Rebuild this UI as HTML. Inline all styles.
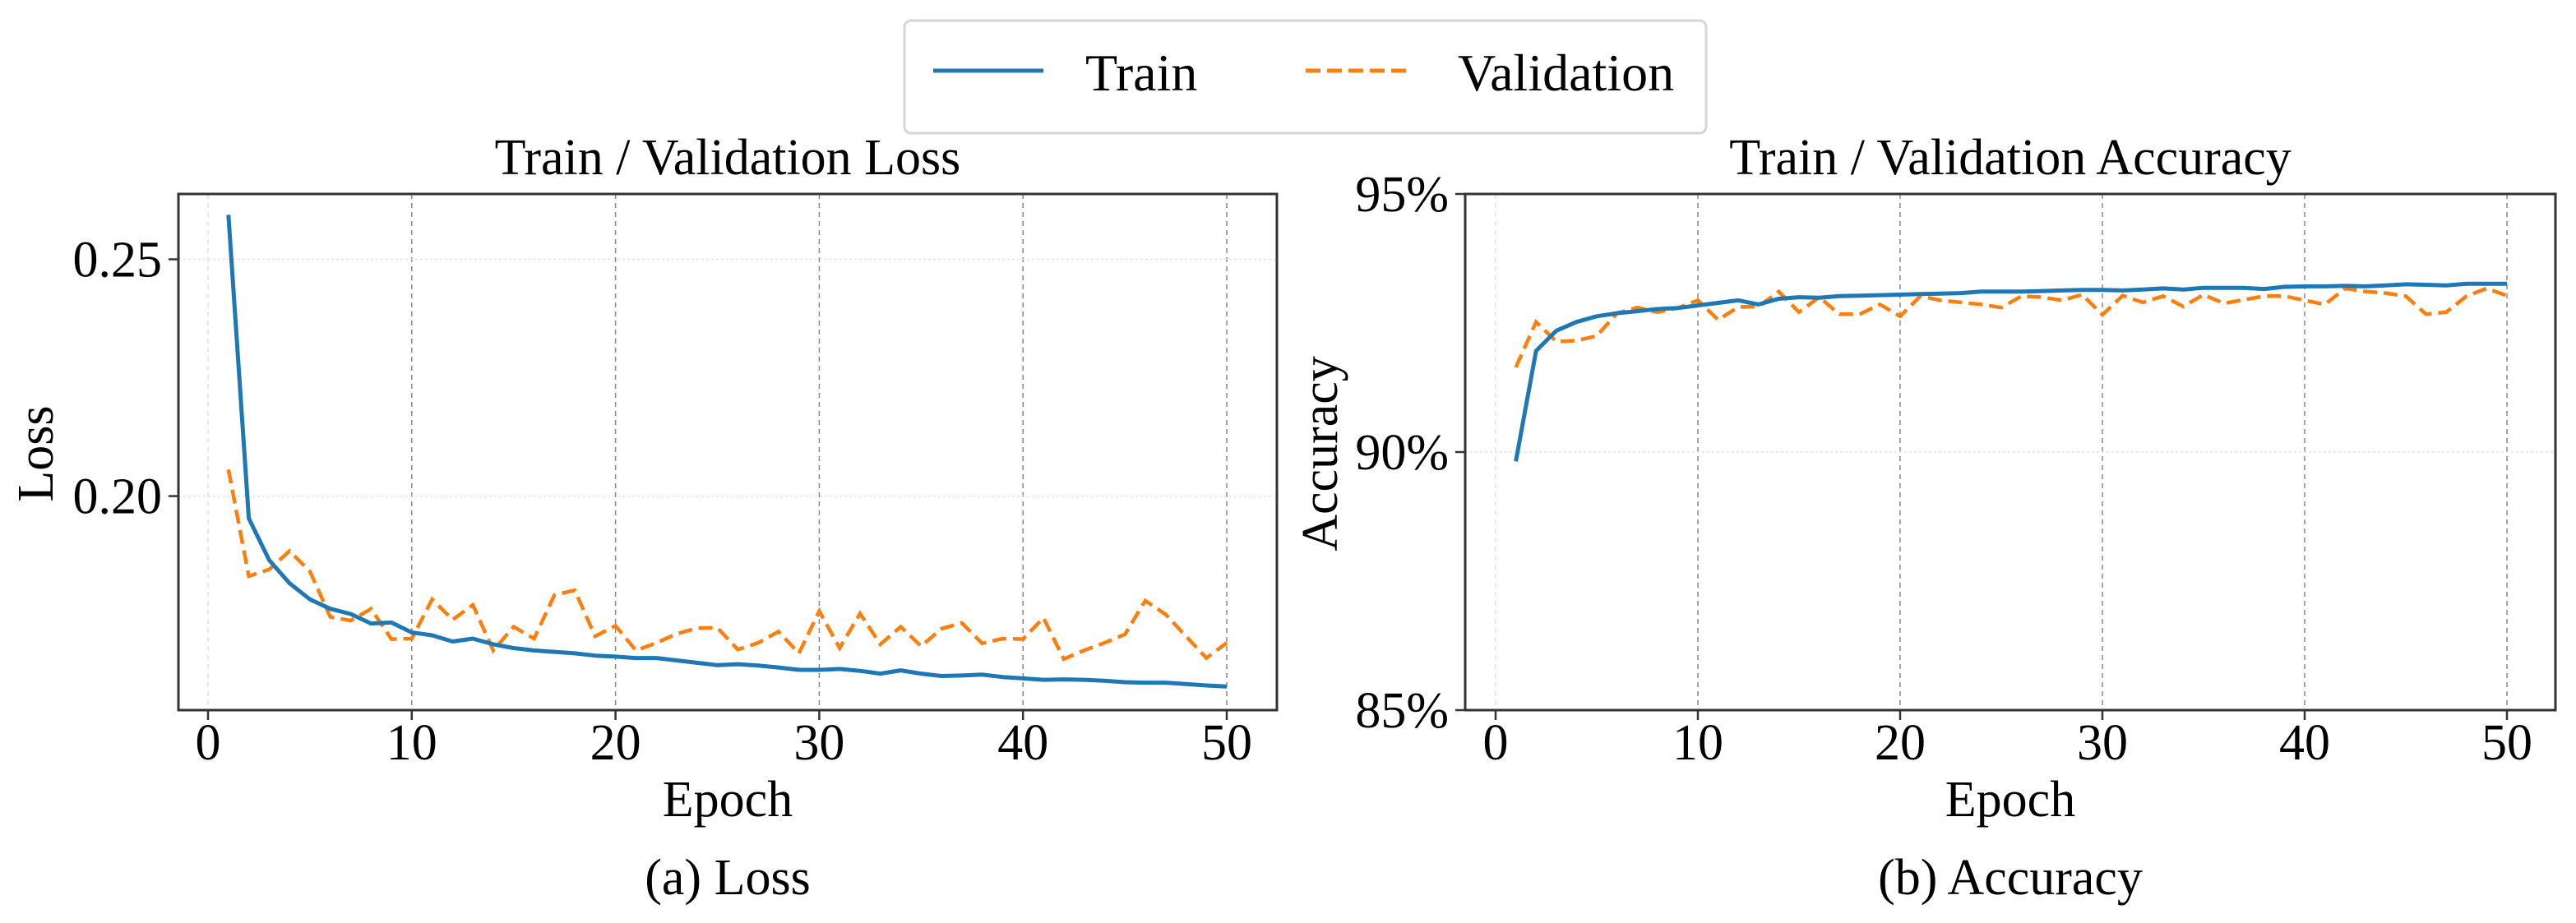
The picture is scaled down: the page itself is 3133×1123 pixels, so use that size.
<!DOCTYPE html>
<html><head><meta charset="utf-8"><style>
html,body{margin:0;padding:0;background:#fff;}
svg{display:block;font-family:"Liberation Serif",serif;}
</style></head><body>
<svg id="fig" width="3133" height="1123" viewBox="0 0 3133 1123" xmlns="http://www.w3.org/2000/svg">
<rect width="3133" height="1123" fill="#fff"/>
<g>
<rect x="1100" y="25" width="975" height="137" rx="8" fill="#fff" stroke="#d6d6d6" stroke-width="3"/>
<line x1="1135" y1="86" x2="1269" y2="86" stroke="#1f77b4" stroke-width="5"/>
<text x="1320" y="110" font-size="64">Train</text>
<line x1="1588" y1="86" x2="1717" y2="86" stroke="#ff7f0e" stroke-width="5" stroke-dasharray="18,8"/>
<text x="1773" y="110" font-size="64">Validation</text>
</g>
<g id="loss"></g>
<g id="acc"></g>
</svg>
<script>
const epochs = Array.from({length:50},(_,i)=>i+1);
const lossTrain = [0.2594,0.1953,0.1865,0.1816,0.1782,0.1762,0.1751,0.1731,0.1733,0.1712,0.1706,0.1693,0.1699,0.1687,0.1679,0.1674,0.1671,0.1668,0.1663,0.1661,0.1658,0.1658,0.1653,0.1648,0.1643,0.1645,0.1642,0.1638,0.1633,0.1633,0.1635,0.1631,0.1625,0.1632,0.1625,0.1620,0.1621,0.1623,0.1618,0.1615,0.1612,0.1613,0.1612,0.1610,0.1607,0.1606,0.1606,0.1603,0.1600,0.1598];
const lossVal = [0.2056,0.1831,0.1845,0.1884,0.1841,0.1745,0.1737,0.1762,0.1698,0.1699,0.1782,0.1739,0.1770,0.1674,0.1724,0.1699,0.1791,0.1801,0.1704,0.1726,0.1674,0.1690,0.1709,0.1721,0.1722,0.1676,0.1690,0.1714,0.1668,0.1757,0.1679,0.1752,0.1687,0.1724,0.1683,0.1720,0.1732,0.1689,0.1699,0.1698,0.1743,0.1656,0.1674,0.1690,0.1708,0.1779,0.1750,0.1704,0.1658,0.1690];
const accTrain = [89.82,91.96,92.35,92.52,92.63,92.69,92.73,92.77,92.79,92.84,92.89,92.94,92.86,92.97,93.00,92.99,93.02,93.03,93.04,93.05,93.06,93.07,93.08,93.11,93.11,93.11,93.12,93.13,93.14,93.14,93.13,93.15,93.17,93.15,93.18,93.18,93.18,93.16,93.20,93.21,93.21,93.22,93.21,93.23,93.25,93.24,93.23,93.26,93.26,93.26];
const accVal = [91.64,92.52,92.14,92.16,92.25,92.69,92.80,92.71,92.79,92.94,92.56,92.81,92.82,93.11,92.71,93.00,92.67,92.67,92.86,92.63,93.02,92.94,92.90,92.86,92.80,93.02,93.00,92.94,93.05,92.66,93.03,92.90,93.02,92.82,93.05,92.88,92.95,93.02,93.02,92.94,92.86,93.17,93.11,93.08,93.02,92.67,92.71,93.02,93.17,93.03];
const xTicks = [0,10,20,30,40,50];
const lossYTicks = [0.20,0.25];
const lossYLabels = ["0.20","0.25"];
const accYTicks = [85,90,95];
const accYLabels = ["85%","90%","95%"];

const NS="http://www.w3.org/2000/svg";
function mk(parent,tag,attrs){const e=document.createElementNS(NS,tag);for(const k in attrs)e.setAttribute(k,attrs[k]);parent.appendChild(e);return e;}

function drawChart(g,cfg){
  const L=cfg.left,R=cfg.right,T=236,B=864;
  const xs=v=>cfg.x0+(v-0)*(cfg.x50-cfg.x0)/50;
  const ys=v=>B-(v-cfg.ymin)/(cfg.ymax-cfg.ymin)*(B-T);
  // grid
  xTicks.forEach(t=>{
    const gl=mk(g,'line',{x1:xs(t),x2:xs(t),y1:T,y2:B,stroke:t===0?'#e0e0e0':'#888','stroke-width':1.5,'stroke-dasharray':'6,5'});
    
    
  });
  cfg.yt.forEach(t=>{
    const gl=mk(g,'line',{x1:L,x2:R,y1:ys(t),y2:ys(t),stroke:'#e3e3e3','stroke-width':1.5,'stroke-dasharray':'3,3'});
    
    
  });
  // series
  const pts=a=>a.map((v,i)=>xs(epochs[i]).toFixed(1)+','+ys(v).toFixed(1)).join(' ');
  const pv=mk(g,'polyline',{points:pts(cfg.val),fill:'none',stroke:'#ff7f0e','stroke-width':4.5,'stroke-dasharray':'17,8'});
  
  
  const pt=mk(g,'polyline',{points:pts(cfg.train),fill:'none',stroke:'#1f77b4','stroke-width':5,'stroke-linejoin':'round'});
  
  
  // frame
  const fr=mk(g,'rect',{x:L,y:T,width:R-L,height:B-T,fill:'none',stroke:'#333','stroke-width':3});
  
  
  // x ticks
  xTicks.forEach(t=>{
    mk(g,'line',{x1:xs(t),x2:xs(t),y1:B,y2:B+12,stroke:'#333','stroke-width':2.5});
    const tx=mk(g,'text',{x:xs(t),y:924,'font-size':62,'text-anchor':'middle'});
    tx.textContent=t;
    
    
  });
  cfg.yt.forEach((t,i)=>{
    mk(g,'line',{x1:L-12,x2:L,y1:ys(t),y2:ys(t),stroke:'#333','stroke-width':2.5});
    const tx=mk(g,'text',{x:L-20,y:ys(t)+21,'font-size':62,'text-anchor':'end'});
    tx.textContent=cfg.yl[i];
    
    
  });
  const cx=(L+R)/2;
  const ti=mk(g,'text',{x:cx,y:212,'font-size':62,'text-anchor':'middle'});
  ti.textContent=cfg.title;
  
  
  const xl=mk(g,'text',{x:cx,y:993,'font-size':62,'text-anchor':'middle'});
  xl.textContent='Epoch';
  
  
  const yl=mk(g,'text',{x:cfg.ylx,y:552,'font-size':62,'text-anchor':'middle',transform:'rotate(-90 '+cfg.ylx+' 552)'});
  yl.textContent=cfg.ylabel;
  
  
  const cap=mk(g,'text',{x:cx,y:1088,'font-size':62,'text-anchor':'middle'});
  cap.textContent=cfg.caption;
  
  
}
drawChart(document.getElementById('loss'),{left:217,right:1553,x0:253,x50:1492,ymin:0.1548,ymax:0.2638,train:lossTrain,val:lossVal,yt:lossYTicks,yl:lossYLabels,title:'Train / Validation Loss',ylabel:'Loss',ylx:64,caption:'(a) Loss'});
drawChart(document.getElementById('acc'),{left:1782,right:3108,x0:1819,x50:3049,ymin:85,ymax:95,train:accTrain,val:accVal,yt:accYTicks,yl:accYLabels,title:'Train / Validation Accuracy',ylabel:'Accuracy',ylx:1626,caption:'(b) Accuracy'});
</script>
</body></html>
